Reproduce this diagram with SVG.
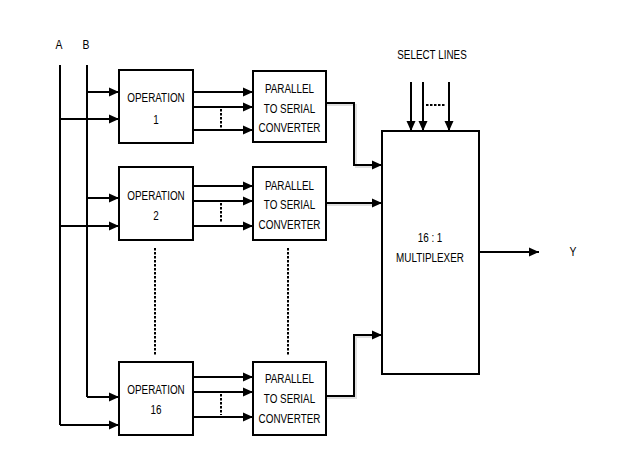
<svg xmlns="http://www.w3.org/2000/svg" width="630" height="450" viewBox="0 0 630 450">
  <defs>
    <marker id="arrow" markerUnits="userSpaceOnUse" markerWidth="10" markerHeight="10" refX="10" refY="5" orient="auto">
      <path d="M0,0.5 L10,5 L0,9.5 z" fill="#000"/>
    </marker>
    <style>
      text { font-family: "Liberation Sans", Arial, sans-serif; font-size: 13px; fill: #000; text-anchor: middle; }
      .box { fill: #fff; stroke: #000; stroke-width: 2; }
      .wire { fill: none; stroke: #000; stroke-width: 2; }
      .arr { fill: none; stroke: #000; stroke-width: 2; marker-end: url(#arrow); }
      .dots { fill: none; stroke: #000; stroke-width: 2; stroke-dasharray: 2.5 1.5; }
      .shadow { fill: none; stroke: #e0e0e0; stroke-width: 2; }
    </style>
  </defs>
  <rect width="630" height="450" fill="#fff"/>

  <!-- labels use a narrowed Arial-metric face -->
  <text transform="translate(59,49) scale(0.8,1)">A</text>
  <text transform="translate(86,49) scale(0.8,1)">B</text>
  <text transform="translate(432,59) scale(0.76,1)">SELECT LINES</text>
  <text transform="translate(573,256) scale(0.8,1)">Y</text>

  <g id="connectors">
    <!-- bus A -->
    <path class="wire" d="M60,65 V425"/>
    <path class="arr" d="M60,119 H119"/>
    <path class="arr" d="M60,226 H119"/>
    <path class="arr" d="M60,425 H119"/>
    <!-- bus B -->
    <path class="wire" d="M87,65 V397"/>
    <path class="arr" d="M87,92 H119"/>
    <path class="arr" d="M87,198 H119"/>
    <path class="arr" d="M87,397 H119"/>

    <!-- operation -> converter -->
    <path class="arr" d="M193,92 H253"/>
    <path class="arr" d="M193,107 H253"/>
    <path class="arr" d="M193,130 H253"/>
    <path class="dots" d="M221,109 V129"/>

    <path class="arr" d="M193,186 H253"/>
    <path class="arr" d="M193,201 H253"/>
    <path class="arr" d="M193,226 H253"/>
    <path class="dots" d="M221,203 V223"/>

    <path class="arr" d="M193,377 H253"/>
    <path class="arr" d="M193,392 H253"/>
    <path class="arr" d="M193,417 H253"/>
    <path class="dots" d="M221,394 V415"/>

    <!-- stacked units continue -->
    <path class="dots" d="M155,248 V356"/>
    <path class="dots" d="M288,248 V356"/>

    <!-- converter -> multiplexer -->
    <path class="shadow" d="M327,105 H356 V167 H372"/>
    <path class="arr" d="M327,103 H354 V165 H382"/>
    <path class="shadow" d="M327,205 H372"/>
    <path class="arr" d="M327,203 H382"/>
    <path class="shadow" d="M327,398 H356 V337 H372"/>
    <path class="arr" d="M327,396 H354 V335 H382"/>

    <!-- select lines -->
    <path class="arr" d="M411,82 V131"/>
    <path class="arr" d="M423,82 V131"/>
    <path class="arr" d="M449,82 V131"/>
    <path class="dots" d="M426,105 H446" stroke-width="1.5"/>

    <!-- output -->
    <path class="arr" d="M479,252 H539"/>
  </g>

  <g id="op1">
    <rect class="box" x="119" y="70" width="74" height="73"/>
    <text transform="translate(156,101.5) scale(0.76,1)">OPERATION</text>
    <text transform="translate(156,123.5) scale(0.76,1)">1</text>
  </g>
  <g id="op2">
    <rect class="box" x="119" y="167" width="74" height="73"/>
    <text transform="translate(156,199.5) scale(0.76,1)">OPERATION</text>
    <text transform="translate(156,219.5) scale(0.76,1)">2</text>
  </g>
  <g id="op16">
    <rect class="box" x="119" y="362" width="74" height="73"/>
    <text transform="translate(156,393.5) scale(0.76,1)">OPERATION</text>
    <text transform="translate(156,413.5) scale(0.76,1)">16</text>
  </g>

  <g id="p2s1">
    <rect class="box" x="253" y="71" width="73" height="71"/>
    <text transform="translate(289.5,92.5) scale(0.76,1)">PARALLEL</text>
    <text transform="translate(289.5,112.5) scale(0.76,1)">TO SERIAL</text>
    <text transform="translate(289.5,131.5) scale(0.76,1)">CONVERTER</text>
  </g>
  <g id="p2s2">
    <rect class="box" x="253" y="167" width="73" height="73"/>
    <text transform="translate(289.5,189.5) scale(0.76,1)">PARALLEL</text>
    <text transform="translate(289.5,208.5) scale(0.76,1)">TO SERIAL</text>
    <text transform="translate(289.5,228.5) scale(0.76,1)">CONVERTER</text>
  </g>
  <g id="p2s16">
    <rect class="box" x="253" y="362" width="73" height="73"/>
    <text transform="translate(289.5,382.5) scale(0.76,1)">PARALLEL</text>
    <text transform="translate(289.5,402.5) scale(0.76,1)">TO SERIAL</text>
    <text transform="translate(289.5,422.5) scale(0.76,1)">CONVERTER</text>
  </g>

  <g id="mux">
    <rect class="box" x="382" y="131" width="97" height="243"/>
    <text transform="translate(430,241.5) scale(0.76,1)">16 : 1</text>
    <text transform="translate(430,261.5) scale(0.76,1)">MULTIPLEXER</text>
  </g>
</svg>
